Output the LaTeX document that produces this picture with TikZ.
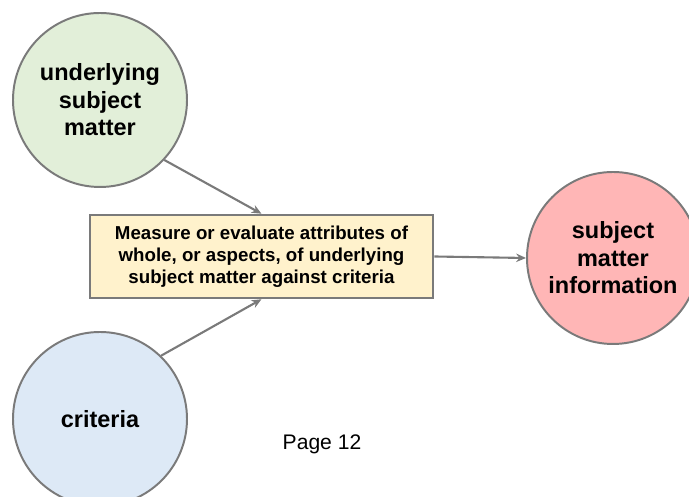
\documentclass[tikz,border=0pt]{standalone}
\usepackage{fontspec}
\setmainfont{Liberation Sans}
\usetikzlibrary{positioning, arrows.meta}

\definecolor{subjfill}{HTML}{E2EFD9}
\definecolor{critfill}{HTML}{DDE9F6}
\definecolor{infofill}{HTML}{FFB6B6}
\definecolor{procfill}{HTML}{FFF2CC}
\definecolor{rim}{HTML}{7A7A7A}

\begin{document}
\begin{tikzpicture}[
    >={Stealth[length=7pt, width=6pt]},
    every node/.style={font=\bfseries},
    blob/.style={circle, draw=rim, line width=1.4pt, inner sep=0pt,
                 align=center, font=\fontsize{16.7}{19.5}\selectfont\bfseries},
    process/.style={rectangle, draw=rim, fill=procfill, line width=1.8pt,
                    minimum width=8.575cm, minimum height=2.075cm, align=center,
                    font=\fontsize{13.3}{15.6}\selectfont\bfseries},
    edge/.style={->, line width=1.5pt, draw=rim},
]
\useasboundingbox (0,0) rectangle (17.225,12.425);

% Nodes
\node[blob, fill=subjfill, minimum size=4.35cm] (subj) at (2.5, 9.925)
    {underlying\\subject\\matter};
\node[blob, fill=critfill, minimum size=4.35cm] (crit) at (2.5, 1.95)
    {criteria};
\node[blob, fill=infofill, minimum size=4.3cm]  (info) at (15.325, 5.975)
    {subject\\matter\\information};
\node[process] (eval) at (6.5375, 6.0125)
    {Measure or evaluate attributes of\\whole, or aspects, of underlying\\subject matter against criteria};
\node[font=\fontsize{15}{18}\selectfont] (page) at (8.05, 1.325) {Page 12};

% Edges
\draw[edge] (subj.-43) -- (eval.north);
\draw[edge] (crit.46)  -- (eval.south);
\draw[edge] (eval.east) -- (info.west);

\end{tikzpicture}
\end{document}
